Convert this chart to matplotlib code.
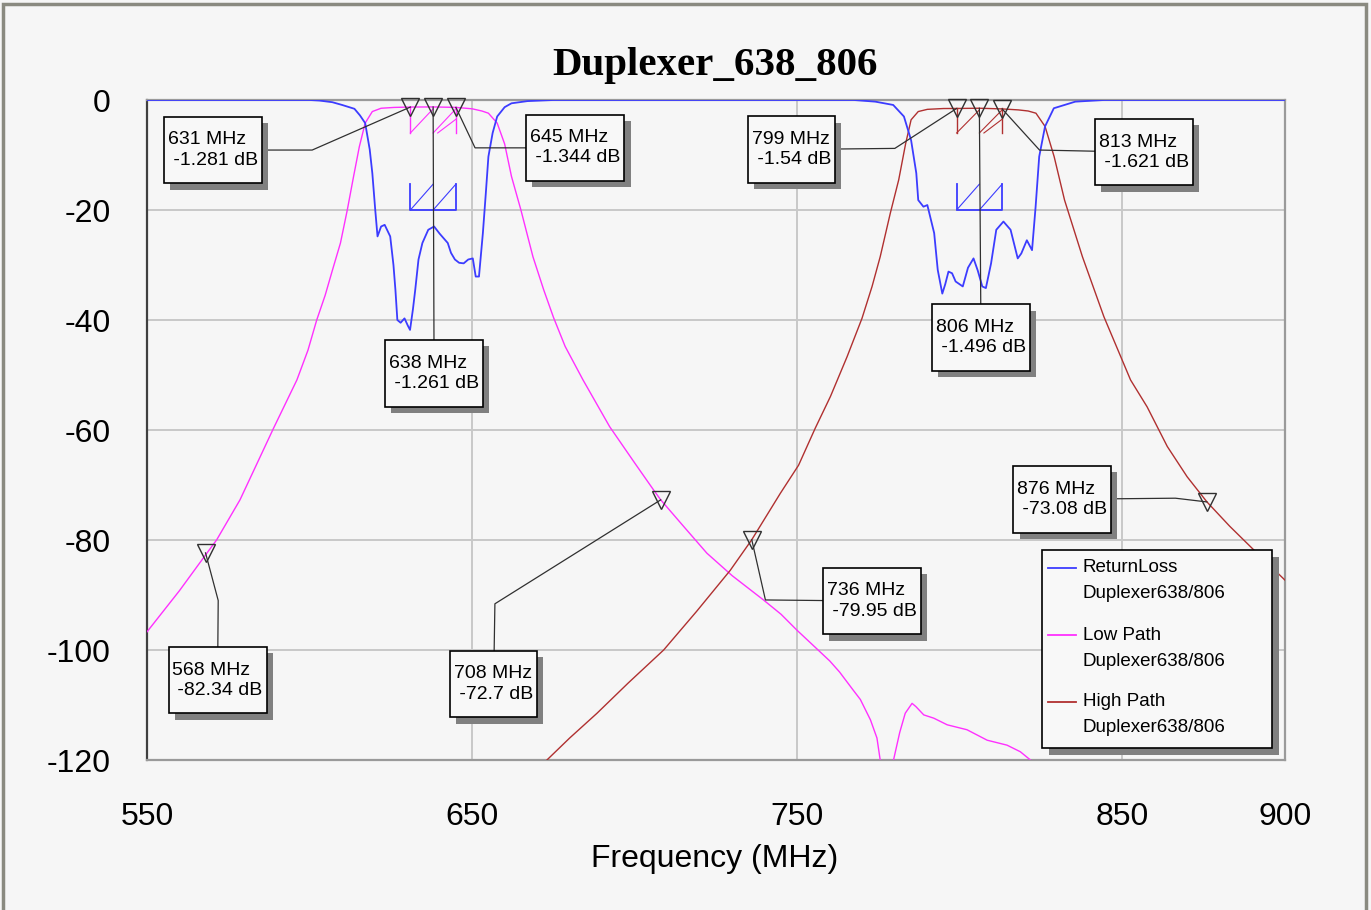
import matplotlib
matplotlib.use("Agg")
import matplotlib.pyplot as plt
import matplotlib.patheffects as pe
from matplotlib.path import Path
from matplotlib.patches import Rectangle

# ---- data ----
rl_freq = [550, 600, 603, 607, 610, 613.8, 615.5, 617.1, 618.5, 619.3, 620.2, 620.9, 622, 623.1,
           624.8, 625.8, 626.4, 627, 628, 629.2, 630.2, 630.9, 631.8, 632.5, 633.5, 634.7, 636.5,
           638.3, 640, 642.5, 643.5, 644.7, 646, 647.4, 648.8, 650.2, 651.1, 652.1, 653.3, 654.2,
           655, 656.3, 657.7, 660, 662.1, 667, 675, 767.4, 774, 779.5, 782.8, 785, 786.6, 787.2,
           788.8, 790, 792.1, 793.2, 794.6, 795.5, 796.5, 797.6, 798.7, 800.9, 802.5, 804.2, 805.5,
           806.9, 808, 809.6, 811.2, 813.4, 815.6, 817.8, 818.9, 820.6, 822.2, 823.3, 824.4, 826.2,
           828.9, 835.5, 844.3, 900]
rl_db = [0, 0, -0.1, -0.4, -0.9, -1.6, -2.8, -4.2, -9, -13.3, -20, -24.8, -23, -22.7,
         -24.8, -30, -34.5, -40, -40.5, -39.7, -41, -41.8, -38, -34.5, -29, -26, -23.6,
         -23, -24.3, -26, -27.8, -29, -29.6, -29.7, -29, -28.8, -32.1, -32.1, -24.2, -17,
         -10.3, -6, -3, -1.3, -0.6, -0.2, 0, 0, -0.3, -0.9, -3, -7.3, -13.3, -18.2,
         -19.4, -19.1, -24.2, -30.9, -35.2, -33.5, -31.2, -31.5, -33, -33.9, -30.5, -28.8, -31,
         -33.9, -34.2, -29.7, -23.6, -22.1, -23.6, -28.8, -27.9, -25.5, -27.3, -19.4, -10.3, -4.8,
         -1.5, -0.3, 0, 0]

low_freq = [550, 550.4, 560, 568.4, 571.4, 578.6, 588.9, 596.1, 599.5, 602.2, 604.8, 607, 609.5,
            611.6, 613.5, 615.3, 617.1, 619.3, 622, 626, 631, 638, 645, 650, 653, 655, 657.7, 660,
            662.1, 665, 668.7, 672, 675, 678.6, 684.1, 692.3, 700, 705.8, 708, 715, 722.2, 730,
            739.6, 745, 749.9, 755.5, 760, 763, 767.2, 769.4, 772.5, 774.5, 775.5, 777.5, 779.6,
            781.5, 783.2, 785.3, 786.5, 788.9, 792, 796.1, 802.2, 808.4, 814.5, 818.6, 821.7, 824]
low_db = [-96.7, -96.4, -89.2, -82.4, -80, -72.7, -59.7, -50.9, -45.5, -40, -35.5, -31, -26,
          -20, -14, -8.5, -4.2, -2.1, -1.5, -1.35, -1.281, -1.261, -1.344, -1.6, -2.0, -2.4, -4.2, -8,
          -13.9, -20, -28.5, -34.5, -39.5, -44.8, -50.9, -59.4, -66, -70.9, -72.7, -77.5, -82.4, -86.5,
          -90.9, -93.5, -96.4, -99.5, -102, -104, -107.3, -109, -112.7, -116, -120, -135, -120,
          -115, -111.5, -109.7, -110.3, -111.8, -112.4, -113.6, -114.5, -116.4, -117.3, -118.5, -120, -124]

high_freq = [665, 673, 680, 688.4, 698, 708.9, 719, 729.4, 736, 744.8, 750.4, 755.5, 760.2, 765.3,
             769.9, 773, 775.5, 778.6, 781.2, 783.3, 785, 787.2, 790, 795, 799, 806, 813, 818, 821,
             823.4, 826.2, 829, 832.2, 837.7, 844.3, 852.5, 857.6, 863.8, 869.9, 876, 883, 890.4, 900]
high_db = [-128, -120, -116, -111.5, -106, -100, -93, -85.5, -79.95, -71.5, -66.4, -59.7, -53.9, -46.7,
           -39.7, -33.9, -28.5, -20.6, -14.5, -8, -3.6, -2.1, -1.7, -1.55, -1.54, -1.496, -1.621, -1.8, -2.0,
           -2.4, -4.8, -10.3, -18.2, -28.5, -39.4, -50.9, -55.8, -63, -68.5, -73.08, -77.5, -81.8, -87.3]

low_mk_freq = [631, 638, 645, 568, 708]
low_mk_db = [-1.281, -1.261, -1.344, -82.34, -72.7]
high_mk_freq = [799, 806, 813, 736, 876]
high_mk_db = [-1.54, -1.496, -1.621, -79.95, -73.08]

spec_bands = [(631, 645), (799, 813)]

x_ticks = [550, 650, 750, 850, 900]
y_ticks = [0, -20, -40, -60, -80, -100, -120]
y_tick_labels = ["0", "-20", "-40", "-60", "-80", "-100", "-120"]

legend_names = ["ReturnLoss", "Low Path", "High Path"]

c_rl = "#3c3cff"
c_low = "#ff30ff"
c_high = "#b03030"
bg = "#f6f6f6"

plt.rcParams["font.family"] = ["Liberation Sans", "DejaVu Sans"]

W, H = 1371, 910
fig = plt.figure(figsize=(W / 100, H / 100), dpi=100, facecolor=bg)
ax = fig.add_axes([147 / W, 1 - 760 / H, 1138 / W, 660 / H], facecolor=bg)

ax.plot(low_freq, low_db, color=c_low, lw=1.0, zorder=3)
ax.plot(high_freq, high_db, color=c_high, lw=1.0, zorder=3)
ax.plot(rl_freq, rl_db, color=c_rl, lw=1.3, zorder=4)

# spec limit drawings (insertion loss hatches and return loss boxes)
for (f1, f2), col, top in zip(spec_bands, [c_low, c_high], [-1.3, -1.5]):
    fm = (f1 + f2) / 2
    ax.plot([f1, f1], [top, -6], color=col, lw=1.0, zorder=3)
    ax.plot([f2, f2], [top, -6], color=col, lw=1.0, zorder=3)
    ax.plot([f1, fm], [-6, top - 0.3], color=col, lw=0.8, zorder=3)
    ax.plot([fm, f2], [-6, top - 0.3], color=col, lw=0.8, zorder=3)
    ax.plot([f1 + 0.6 * (f2 - f1), f2], [-6, -3.5], color=col, lw=0.8, zorder=3)
    ax.plot([f1, f1, f2, f2], [-15.3, -20, -20, -15.3], color=c_rl, lw=1.3, zorder=4)
    ax.plot([f1, fm], [-20, -15.3], color=c_rl, lw=0.8, zorder=4)
    ax.plot([fm, f2], [-20, -15.3], color=c_rl, lw=0.8, zorder=4)


def box_style(x0, y0, width, height, mutation_size):
    px, py = 0.2 * mutation_size, 0.75 * mutation_size
    x0, y0 = x0 - px, y0 - py
    x1, y1 = x0 + width + 2 * px, y0 + height + 2 * py
    return Path([(x0, y0), (x1, y0), (x1, y1), (x0, y1), (x0, y0)], closed=True)


box_shadow = [pe.SimplePatchShadow(offset=(4.5, -4.5), shadow_rgbFace="#808080", alpha=1.0),
              pe.Normal()]


def marker_note(f, v, box_xy, kink=None):
    xs, ys = [f], [v]
    if kink is not None:
        xs.append(kink[0])
        ys.append(kink[1])
    xs.append(box_xy[0])
    ys.append(box_xy[1])
    ax.plot(xs, ys, color="#303030", lw=0.9, zorder=5, clip_on=False)
    ax.plot([f], [v], marker="v", ms=13, mfc="none", mec="#303030", mew=1.0,
            zorder=6, clip_on=False)
    t = ax.text(box_xy[0], box_xy[1], f"{f} MHz\n {v:g} dB", ha="center", va="center",
                multialignment="left", fontsize=14, color="black", linespacing=1.25, zorder=8,
                bbox=dict(boxstyle=box_style, fc="#f8f8f8", ec="black", lw=1.2))
    t.get_bbox_patch().set_path_effects(box_shadow)


boxes_low = [(570.2, -9.1), (638.3, -49.7), (681.7, -8.7), (571.7, -105.5), (656.6, -106.2)]
kinks_low = [(600.8, -9.1), None, (650.9, -8.7), (571.9, -91), (657, -91.6)]
boxes_high = [(748.2, -9.0), (806.5, -43.2), (856.6, -9.5), (772.9, -91.1), (831.5, -72.6)]
kinks_high = [(780, -8.8), None, (824.5, -9.1), (740.2, -90.9), (866.3, -72.4)]

for f, v, b, k in zip(low_mk_freq, low_mk_db, boxes_low, kinks_low):
    marker_note(f, v, b, k)
for f, v, b, k in zip(high_mk_freq, high_mk_db, boxes_high, kinks_high):
    marker_note(f, v, b, k)

ax.set_xlim(550, 900)
ax.set_ylim(-120, 0)
ax.set_xticks(x_ticks)
ax.set_xticklabels([str(t) for t in x_ticks])
ax.set_yticks(y_ticks)
ax.set_yticklabels(y_tick_labels)
ax.tick_params(length=0, labelsize=23)
ax.tick_params(axis="x", pad=30)
ax.tick_params(axis="y", pad=26)
ax.grid(True, color="#c8c8c8", lw=1.4, zorder=0)
ax.set_axisbelow(True)
for name, sp in ax.spines.items():
    sp.set_color("#9a9a9a")
    sp.set_linewidth(1.6)
ax.spines["left"].set_color("#404040")

ax.set_xlabel("Frequency (MHz)", fontsize=23)
ax.xaxis.set_label_coords(0.499, -0.128)

fig.text(715 / W, 1 - 66 / H, "Duplexer_638_806", ha="center", va="center",
         fontsize=29.5, fontweight="bold", family=["Liberation Serif", "DejaVu Serif"])

# legend drawn by hand so the handle sits on the first text line


def fx(p):
    return p / W


def fy(p):
    return 1 - p / H


fig.patches.append(Rectangle((fx(1049), fy(755)), fx(230), 198 / H, transform=fig.transFigure,
                             fc="#808080", ec="none", zorder=9))
fig.patches.append(Rectangle((fx(1042), fy(748)), fx(230), 198 / H, transform=fig.transFigure,
                             fc="#f8f8f8", ec="black", lw=1.2, zorder=10))
for i, (name, col) in enumerate(zip(legend_names, [c_rl, c_low, c_high])):
    yy = 568 + 67 * i
    fig.lines.append(plt.Line2D([fx(1048), fx(1076)], [fy(yy), fy(yy)], transform=fig.transFigure,
                                color=col, lw=1.3, zorder=11))
    fig.text(fx(1083), fy(yy), name, fontsize=13.5, va="center", zorder=11)
    fig.text(fx(1083), fy(yy + 26), "Duplexer638/806", fontsize=13.5, va="center", zorder=11)

# outer frame of the window
fig.patches.append(Rectangle((fx(3), fy(912)), fx(1363), 908 / H, transform=fig.transFigure,
                             fc="none", ec="#8a8a80", lw=2.5, zorder=0))

fig.savefig("out.png", dpi=100, facecolor=bg)
